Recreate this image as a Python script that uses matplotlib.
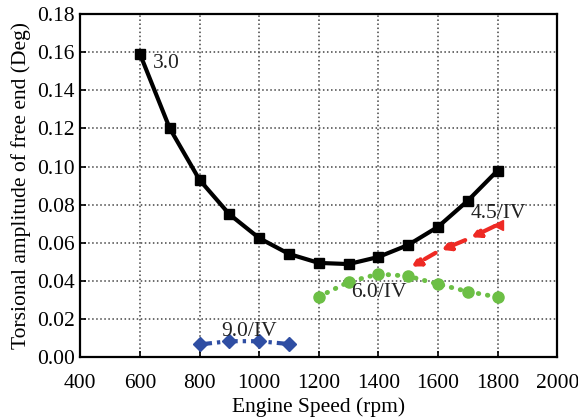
import numpy as np
import matplotlib.pyplot as plt

plt.rcParams['font.family'] = ['Liberation Serif', 'DejaVu Serif']

# order 3.0
speed_30 = [600, 700, 800, 900, 1000, 1100, 1200, 1300, 1400, 1500, 1600, 1700, 1800]
amp_30 = [0.159, 0.120, 0.093, 0.075, 0.0625, 0.0542, 0.0495, 0.0489, 0.0526,
          0.0589, 0.0684, 0.0821, 0.0979]
# order 4.5/IV (drawn from 1800 down to 1500)
speed_45 = [1800, 1700, 1600, 1500]
amp_45 = [0.0695, 0.0620, 0.0555, 0.0465]
# order 6.0/IV
speed_60 = [1200, 1300, 1400, 1500, 1600, 1700, 1800]
amp_60 = [0.0318, 0.0395, 0.0437, 0.0426, 0.0384, 0.0345, 0.0316]
# order 9.0/IV
speed_90 = [800, 900, 1000, 1100]
amp_90 = [0.0068, 0.0085, 0.0085, 0.0070]

labels = ['3.0', '4.5/IV', '6.0/IV', '9.0/IV']
label_pos = [(642, 0.154), (1708, 0.0755), (1310, 0.034), (874, 0.0137)]

fig = plt.figure(figsize=(5.78, 4.19), dpi=100)
ax = fig.add_axes([0.139, 0.147, 0.825, 0.820])

ax.plot(speed_30, amp_30, color='black', lw=3, marker='s', ms=7, zorder=5)

red = '#ee2a24'
for i in range(len(speed_45) - 1):
    ax.annotate('', xy=(speed_45[i + 1], amp_45[i + 1]), xytext=(speed_45[i], amp_45[i]),
                arrowprops=dict(arrowstyle='-|>,head_length=0.5,head_width=0.28', color=red,
                                lw=3, linestyle=(0, (3, 1.3)), shrinkA=2, shrinkB=3),
                zorder=4)
ax.plot(speed_45[:1], amp_45[:1], color=red, marker='<', ms=7, ls='none', zorder=4)

green = '#6cbf45'
ax.plot(speed_60, amp_60, color=green, lw=3.5, ls=(0, (0.1, 1.8)),
        dash_capstyle='round', marker='o', ms=8, zorder=4)

blue = '#2f4ea3'
ax.plot(speed_90, amp_90, color=blue, lw=3, ls=(0, (3, 1.2, 0.8, 1.2)), marker='D', ms=7, zorder=4)

for txt, (x, y) in zip(labels, label_pos):
    ax.text(x, y, txt, fontsize=15.5, ha='left', va='center', color='#222222', zorder=6)

ax.set_xlim(400, 2000)
ax.set_ylim(0, 0.18)
ax.set_xticks(np.arange(400, 2001, 200))
ax.set_yticks(np.arange(0, 0.181, 0.02))
ax.yaxis.set_major_formatter(plt.FormatStrFormatter('%.2f'))
ax.grid(True, ls=':', color='#444444', lw=1.1)
ax.set_axisbelow(True)
ax.tick_params(direction='in', length=4, width=1.2, labelsize=15.5, top=False, right=False)
ax.tick_params(axis='x', pad=12)
ax.tick_params(axis='y', pad=4)
for s in ax.spines.values():
    s.set_linewidth(1.6)
ax.set_xlabel('Engine Speed (rpm)', fontsize=15.5, labelpad=3)
ax.set_ylabel('Torsional amplitude of free end (Deg)', fontsize=15.5, labelpad=4)

fig.savefig('out.png', dpi=100)
